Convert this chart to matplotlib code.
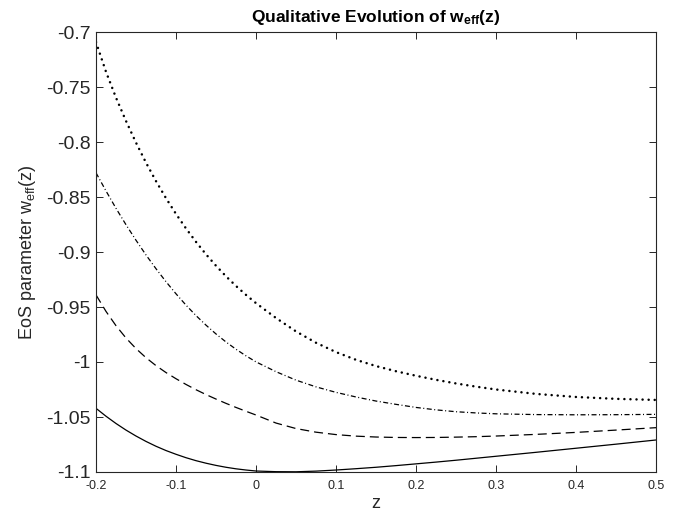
import matplotlib
matplotlib.use("Agg")
import matplotlib.pyplot as plt

plt.rcParams['font.family'] = ['Liberation Sans', 'DejaVu Sans']
plt.rcParams['mathtext.fontset'] = 'custom'
plt.rcParams['mathtext.rm'] = 'Liberation Sans'
plt.rcParams['mathtext.it'] = 'Liberation Sans'
plt.rcParams['mathtext.bf'] = 'Liberation Sans:bold'
plt.rcParams['lines.scale_dashes'] = False

z = [-0.2, -0.1875, -0.175, -0.1625, -0.15, -0.1375, -0.125, -0.1125, -0.1,
     -0.0875, -0.075, -0.0625, -0.05, -0.0375, -0.025, -0.0125, 0.0,
     0.025, 0.05, 0.075, 0.1, 0.125, 0.15, 0.175, 0.2, 0.225, 0.25, 0.275, 0.3,
     0.35, 0.4, 0.45, 0.5]

w_solid = [-1.0421, -1.0493, -1.0559, -1.0619, -1.0673, -1.0722, -1.0766,
           -1.0805, -1.0839, -1.0870, -1.0897, -1.0920, -1.0940, -1.0957,
           -1.0971, -1.0982, -1.0991,
           -1.0997, -1.0998, -1.0992, -1.0982, -1.0970, -1.0957, -1.0942,
           -1.0926, -1.0910, -1.0893, -1.0875, -1.0857,
           -1.0821, -1.0784, -1.0747, -1.0709]
w_dashed = [-0.939, -0.954, -0.967, -0.9782, -0.9878, -0.9961, -1.0033,
            -1.0096, -1.0152, -1.0204, -1.0252, -1.0296, -1.0337, -1.0376,
            -1.0413, -1.0448, -1.0482,
            -1.0555, -1.0605, -1.0638, -1.0660, -1.0674, -1.0682, -1.0686,
            -1.0687, -1.0686, -1.0683, -1.0679, -1.0673,
            -1.0658, -1.0640, -1.0619, -1.0597]
w_dashdot = [-0.828, -0.8445, -0.8603, -0.8752, -0.8893, -0.9027, -0.9152,
             -0.9270, -0.9380, -0.9483, -0.9578, -0.9665, -0.9745, -0.9818,
             -0.9884, -0.9944, -0.9999,
             -1.0088, -1.0165, -1.0226, -1.0276, -1.0318, -1.0355, -1.0385,
             -1.0413, -1.0435, -1.0452, -1.0463, -1.0471,
             -1.0478, -1.0480, -1.0479, -1.0476]
w_dotted = [-0.7092, -0.7362, -0.7597, -0.7809, -0.8006, -0.8188, -0.8356,
            -0.8511, -0.8654, -0.8786, -0.8908, -0.9021, -0.9125, -0.9221,
            -0.9309, -0.9390, -0.9465,
            -0.9600, -0.9722, -0.9825, -0.9910, -0.9980, -1.0037, -1.0084,
            -1.0125, -1.0162, -1.0195, -1.0224, -1.0250,
            -1.0290, -1.0318, -1.0335, -1.0345]

xticks = [-0.2, -0.1, 0, 0.1, 0.2, 0.3, 0.4, 0.5]
xticklabels = ['-0.2', '-0.1', '0', '0.1', '0.2', '0.3', '0.4', '0.5']
yticks = [-1.1, -1.05, -1.0, -0.95, -0.9, -0.85, -0.8, -0.75, -0.7]
yticklabels = ['-1.1', '-1.05', '-1', '-0.95', '-0.9', '-0.85', '-0.8', '-0.75', '-0.7']

axcol = (0.15, 0.15, 0.15)

fig = plt.figure(figsize=(6.88, 5.16), dpi=100)
ax = fig.add_axes([96/688, 1-472/516, 560/688, 440/516])

px = 0.72  # points per pixel at 100 dpi
ax.plot(z, w_solid, color='black', lw=0.9, solid_joinstyle='round')
ax.plot(z, w_dashed, color='black', lw=0.9, linestyle=(0, (9*px, 5*px)))
ax.plot(z, w_dashdot, color='black', lw=0.9,
        linestyle=(0, (5*px, 2.5*px, 1*px, 2.5*px)))
ax.plot(z, w_dotted, color='black', lw=1.8, dash_capstyle='round',
        linestyle=(0, (0.05, 6.0*px)))

ax.set_xlim(-0.2, 0.5)
ax.set_ylim(-1.1, -0.7)
ax.set_xticks(xticks)
ax.set_xticklabels(xticklabels, fontsize=9)
ax.set_yticks(yticks)
ax.set_yticklabels(yticklabels, fontsize=14)

ax.tick_params(direction='in', top=True, right=True, length=5, width=0.7,
               colors=axcol, pad=4)
ax.tick_params(axis='x', pad=6)
for s in ax.spines.values():
    s.set_color(axcol)
    s.set_linewidth(0.8)

ax.set_xlabel('z', fontsize=13, color=axcol, labelpad=2)
ax.set_ylabel(r'EoS parameter w$_{\mathregular{eff}}$(z)', fontsize=13,
              color=axcol, labelpad=6)
ax.set_title(r'Qualitative Evolution of w$_{\mathbf{eff}}$(z)', fontsize=12.5,
             fontweight='bold', pad=7)

fig.savefig('out.png', dpi=100)
